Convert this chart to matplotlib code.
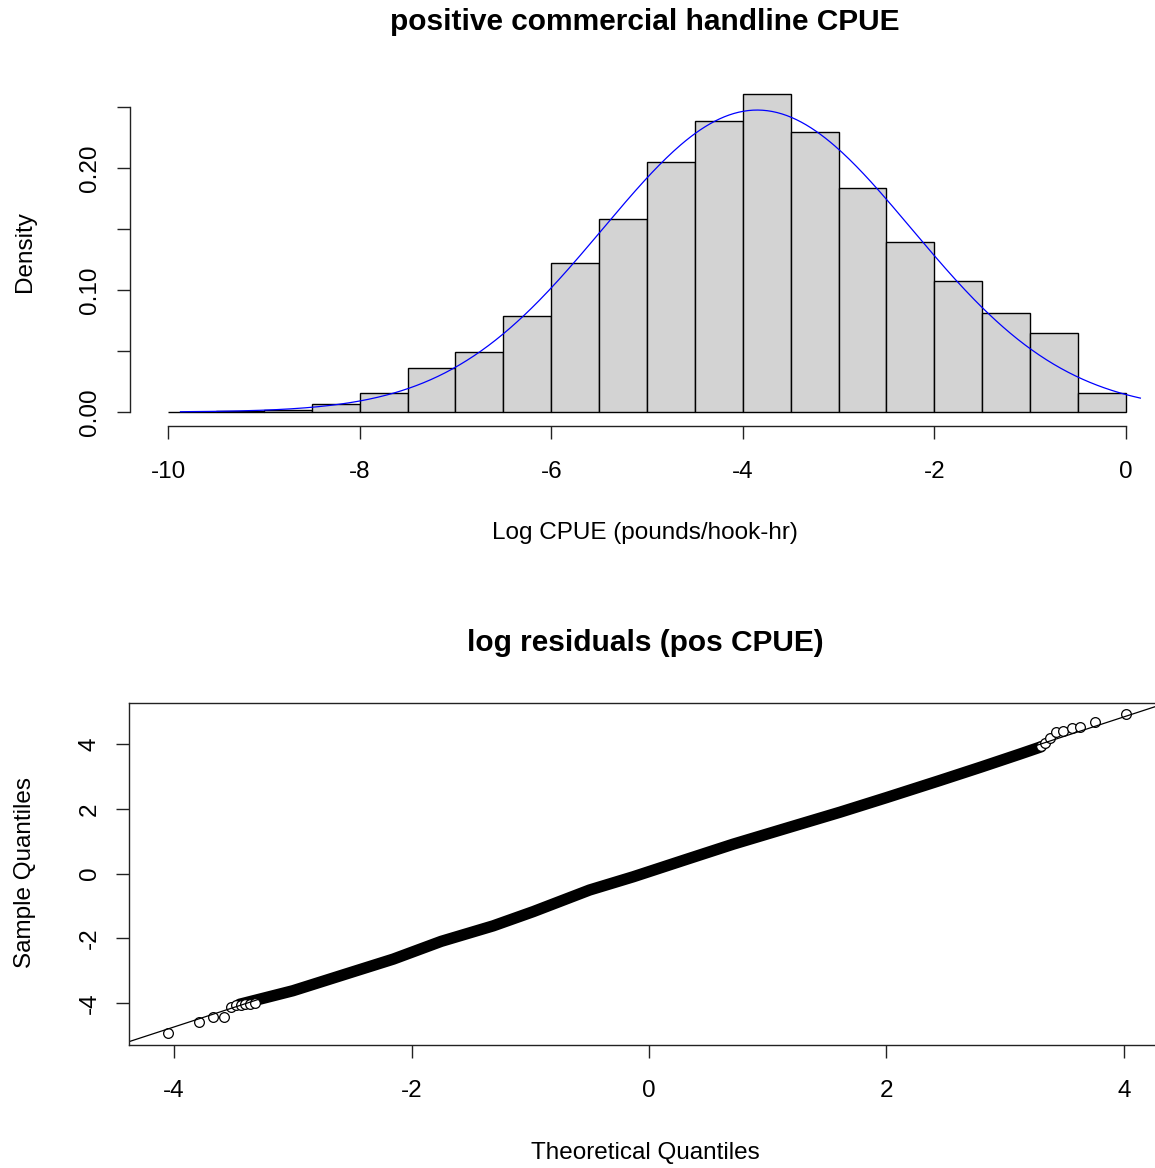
import numpy as np
import matplotlib
matplotlib.use("Agg")
import matplotlib.pyplot as plt

W, H = 1155, 1168
FONT = "Liberation Sans"

# histogram of log CPUE (density per 0.5-wide bin, left edges)
bin_left = [-10.0, -9.5, -9.0, -8.5, -8.0, -7.5, -7.0, -6.5, -6.0, -5.5,
            -5.0, -4.5, -4.0, -3.5, -3.0, -2.5, -2.0, -1.5, -1.0, -0.5]
density = [0.0, 0.001, 0.002, 0.0066, 0.0158, 0.036, 0.049, 0.079, 0.122, 0.158,
           0.205, 0.2385, 0.261, 0.2295, 0.184, 0.139, 0.107, 0.081, 0.0645, 0.0158]
bin_width = 0.5

# fitted normal curve
norm_mean = -3.85
norm_sd = 1.612
curve_from, curve_to = -9.87, 0.15

# qq plot: sparse tail points (theoretical, sample)
tail_theo = [-4.05, -3.79, -3.67, -3.58, -3.52, -3.48, -3.44, -3.40, -3.36, -3.32,
             3.30, 3.34, 3.38, 3.43, 3.49, 3.56, 3.63, 3.76, 4.02]
tail_samp = [-4.95, -4.61, -4.45, -4.43, -4.12, -4.08, -4.06, -4.05, -4.04, -4.02,
             3.95, 4.05, 4.2, 4.37, 4.41, 4.50, 4.53, 4.70, 4.93]
# dense body of the qq points, read along the band
band_theo = [-3.45, -3.0, -2.5, -2.154, -1.75, -1.312, -0.975, -0.5, -0.132,
             0.3, 0.71, 1.2, 1.61, 2.0, 2.45, 2.8, 3.125, 3.3]
band_samp = [-4.05, -3.63, -3.05, -2.65, -2.1, -1.62, -1.18, -0.51, -0.10,
             0.42, 0.91, 1.45, 1.90, 2.35, 2.88, 3.30, 3.70, 3.92]
# qqline
qq_intercept = 0.05
qq_slope = 1.2


def box(left, top, right, bottom):
    return [left / W, 1 - bottom / H, (right - left) / W, (bottom - top) / H]


def ftext(x, y, s, **kw):
    fig.text(x / W, 1 - y / H, s, ha="center", va="center", family=FONT, **kw)


plt.rcParams["axes.unicode_minus"] = False
plt.rcParams["font.family"] = FONT

fig = plt.figure(figsize=(W / 100, H / 100), dpi=100)

# ---- top: histogram
ax1 = fig.add_axes(box(129.7, 81, 1164.3, 426))
ax1.bar(bin_left, density, width=bin_width, align="edge",
        color="#d3d3d3", edgecolor="black", linewidth=1.0)
xs = np.linspace(curve_from, curve_to, 400)
ys = np.exp(-0.5 * ((xs - norm_mean) / norm_sd) ** 2) / (norm_sd * np.sqrt(2 * np.pi))
ax1.plot(xs, ys, color="blue", lw=0.9)
ax1.set_xlim(-10.4, 0.4)
ax1.set_ylim(-0.01148, 0.2713)
for s in ["top", "right"]:
    ax1.spines[s].set_visible(False)
ax1.spines["left"].set_bounds(0, 0.25)
ax1.spines["bottom"].set_bounds(-10, 0)
ax1.set_xticks([-10, -8, -6, -4, -2, 0])
ax1.set_xticklabels(["-10", "-8", "-6", "-4", "-2", "0"])
ax1.set_yticks([0, 0.05, 0.10, 0.15, 0.20, 0.25])
ax1.set_yticklabels(["0.00", "", "0.10", "", "0.20", ""])

# ---- bottom: normal qq plot
ax2 = fig.add_axes(box(129.3, 702.7, 1170.8, 1045))
ax2.plot(band_theo, band_samp, color="black", lw=8.2, solid_capstyle="round")
ax2.plot(tail_theo, tail_samp, "o", mfc="white", mec="black", ms=7, mew=0.9)
lx = np.array([-4.4, 4.4])
ax2.plot(lx, qq_intercept + qq_slope * lx, color="black", lw=0.9)
ax2.set_xlim(-4.378, 4.396)
ax2.set_ylim(-5.31, 5.29)
ax2.set_xticks([-4, -2, 0, 2, 4])
ax2.set_xticklabels(["-4", "-2", "0", "2", "4"])
ax2.set_yticks([-4, -2, 0, 2, 4])
ax2.set_yticklabels(["-4", "-2", "0", "2", "4"])

for ax in (ax1, ax2):
    for sp in ax.spines.values():
        sp.set_linewidth(1.0)
        sp.set_color("#222222")
    ax.tick_params(direction="out", length=9.5, width=1.0, color="#222222",
                   labelsize=17.5)
    ax.tick_params(axis="x", pad=16)
    ax.tick_params(axis="y", pad=11)
    plt.setp(ax.get_yticklabels(), rotation=90, va="center")

ftext(645, 22, "positive commercial handline CPUE", fontsize=21.5, fontweight="bold")
ftext(645, 533, "Log CPUE (pounds/hook-hr)", fontsize=17.5)
ftext(25, 252, "Density", fontsize=17.5, rotation=90)

ftext(645, 643, "log residuals (pos CPUE)", fontsize=21.5, fontweight="bold")
ftext(645, 1153, "Theoretical Quantiles", fontsize=17.5)
ftext(25, 873, "Sample Quantiles", fontsize=17.5, rotation=90)

fig.savefig("out.png", dpi=100)
